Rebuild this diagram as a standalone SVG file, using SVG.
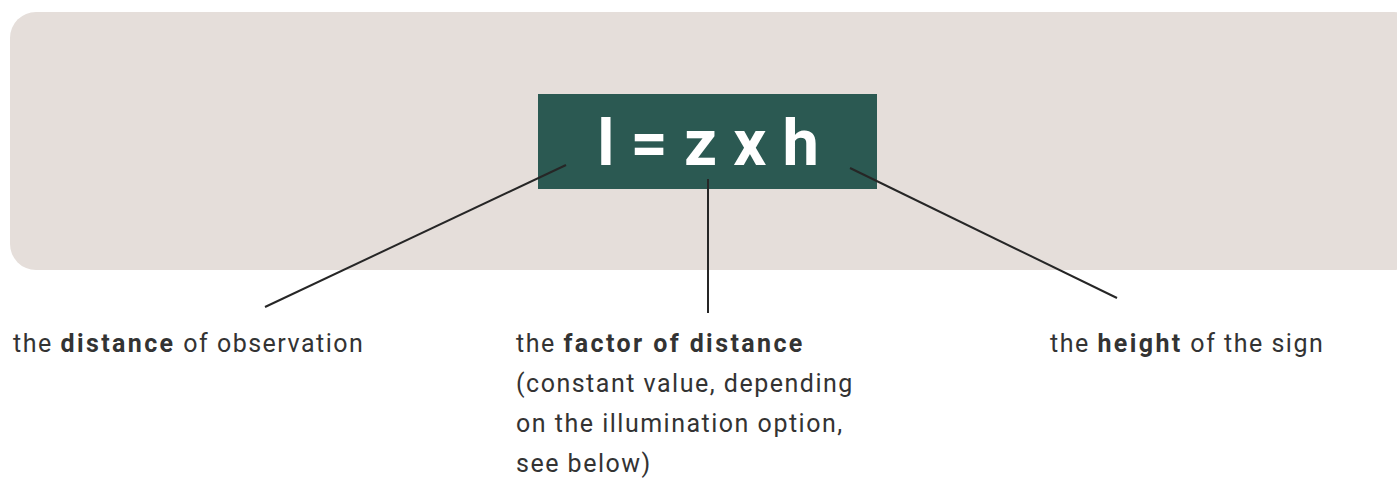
<svg xmlns="http://www.w3.org/2000/svg" width="1397" height="483" viewBox="0 0 1397 483">
<style>
.lbl{font-family:Roboto,"Liberation Sans",sans-serif;font-size:25px;letter-spacing:1.5px;fill:#333333}
.b{font-weight:bold;letter-spacing:2.4px}
.conn{stroke:#262626;stroke-width:2;fill:none}
</style>
<rect x="0" y="0" width="1397" height="483" fill="#ffffff"/>
<g id="panel"><rect x="10" y="12" width="1410" height="258" rx="26" fill="#e5deda"/></g>
<g id="formula">
<rect x="538" y="94" width="339" height="95" fill="#2b5952"/>
<text x="708" y="165" text-anchor="middle" font-family="Roboto,'Liberation Sans',sans-serif" font-weight="bold" font-size="65" fill="#ffffff">l = z x h</text>
</g>
<g id="connectors">
<line class="conn" x1="566" y1="165" x2="265" y2="307"/>
<line class="conn" x1="708" y1="179" x2="708" y2="313"/>
<line class="conn" x1="850" y1="168" x2="1117" y2="298"/>
</g>
<g id="label-distance"><text class="lbl" x="13" y="352">the <tspan class="b">distance</tspan> of observation</text></g>
<g id="label-factor"><text class="lbl" x="516" y="352">the <tspan class="b">factor of distance</tspan><tspan x="516" y="392">(constant value, depending</tspan><tspan x="516" y="432">on the illumination option,</tspan><tspan x="516" y="472">see below)</tspan></text></g>
<g id="label-height"><text class="lbl" x="1050" y="352">the <tspan class="b">height</tspan> of the sign</text></g>
</svg>
